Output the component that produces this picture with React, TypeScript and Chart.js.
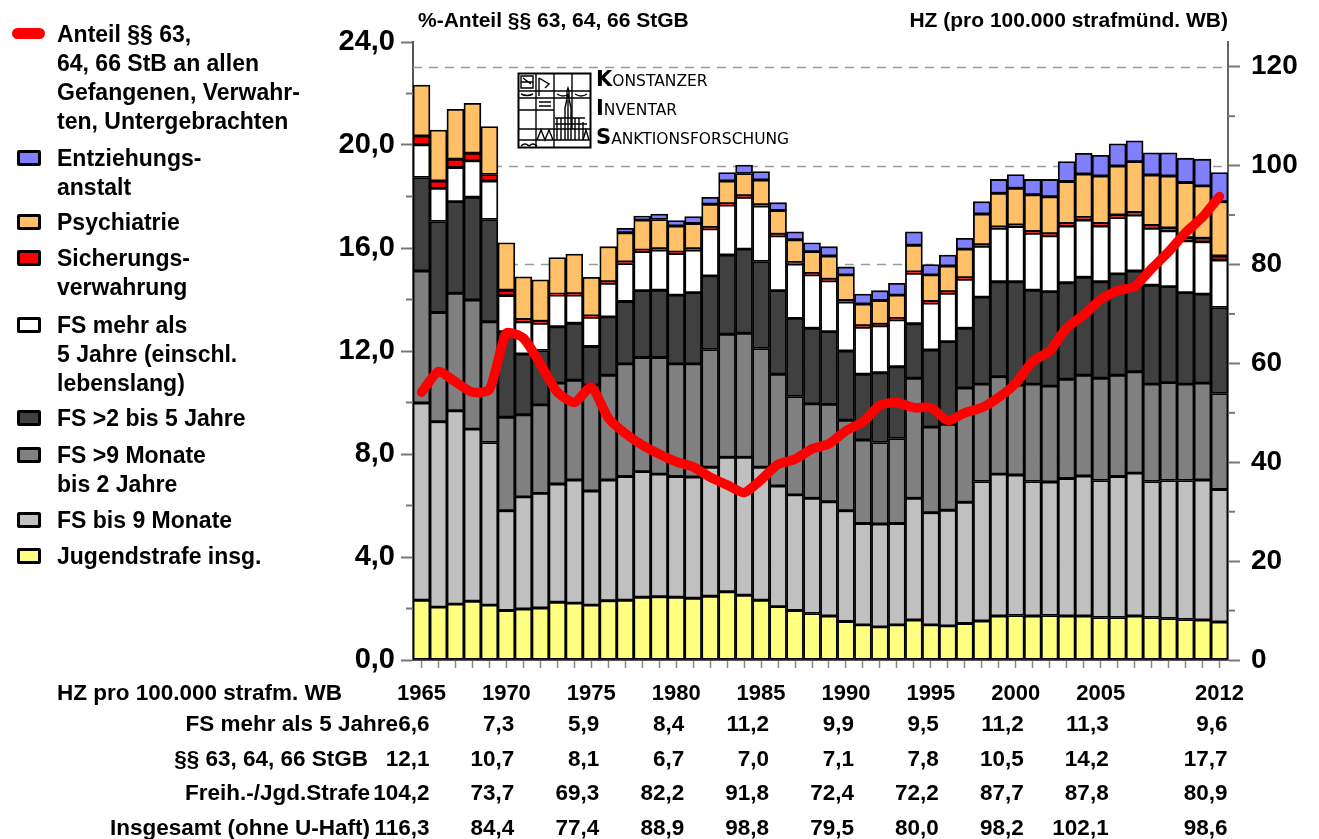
import React, { useEffect, useRef, useState } from 'react';
import { Chart, registerables } from 'chart.js';

Chart.register(...registerables);

const years = [
  '1965', '1966', '1967', '1968', '1969', '1970', '1971', '1972', '1973', '1974',
  '1975', '1976', '1977', '1978', '1979', '1980', '1981', '1982', '1983', '1984',
  '1985', '1986', '1987', '1988', '1989', '1990', '1991', '1992', '1993', '1994',
  '1995', '1996', '1997', '1998', '1999', '2000', '2001', '2002', '2003', '2004',
  '2005', '2006', '2007', '2008', '2009', '2010', '2011', '2012',
];

const labeledYears = ['1965', '1970', '1975', '1980', '1985', '1990', '1995', '2000', '2005', '2012'];

// HZ per 100.000 (right axis), stacked bottom -> top
const jugendstrafe = [
  12.1, 10.7, 11.3, 11.9, 11.1, 10.0, 10.3, 10.5, 11.7, 11.5,
  11.1, 12.0, 12.1, 12.7, 12.8, 12.7, 12.5, 12.9, 13.8, 13.1,
  12.1, 10.8, 10.0, 9.4, 8.9, 7.8, 7.1, 6.7, 7.1, 8.1,
  7.1, 6.9, 7.4, 7.9, 8.9, 9.0, 8.9, 9.0, 8.9, 8.9,
  8.6, 8.6, 8.9, 8.6, 8.4, 8.2, 8.1, 7.7,
];
const fsBis9Monate = [
  39.9, 37.5, 39.1, 34.8, 32.9, 20.2, 22.7, 23.2, 23.9, 24.9,
  23.1, 24.4, 25.0, 25.4, 24.8, 24.4, 24.5, 26.1, 27.2, 27.9,
  26.9, 24.4, 23.4, 23.3, 23.1, 22.4, 20.5, 20.8, 20.5, 24.6,
  22.7, 23.4, 24.5, 28.2, 28.7, 28.4, 27.2, 27.0, 27.8, 28.3,
  27.7, 28.5, 28.9, 27.5, 27.9, 28.1, 28.3, 26.8,
];
const fs9MonateBis2Jahre = [
  26.7, 22.1, 23.8, 26.1, 24.4, 18.9, 16.6, 17.9, 20.4, 20.2,
  21.4, 21.2, 22.8, 23.1, 23.6, 22.8, 22.9, 23.8, 24.9, 25.1,
  24.0, 22.6, 19.9, 19.1, 19.7, 18.3, 16.9, 16.5, 17.2, 24.3,
  17.3, 17.4, 23.1, 19.7, 19.7, 18.2, 19.7, 19.4, 20.1, 20.4,
  20.7, 20.5, 20.5, 19.7, 19.8, 19.5, 19.6, 19.4,
];
const fs2Bis5Jahre = [
  18.9, 18.4, 18.5, 20.8, 20.7, 17.3, 12.3, 11.0, 11.4, 11.5,
  7.8, 11.8, 12.6, 13.5, 13.6, 13.9, 14.4, 14.9, 16.0, 17.0,
  17.6, 16.9, 15.8, 15.3, 14.7, 14.0, 13.3, 14.1, 14.5, 11.0,
  15.6, 16.7, 12.1, 17.6, 19.2, 20.9, 19.0, 19.1, 19.5, 19.8,
  19.5, 20.5, 20.4, 20.0, 19.4, 18.5, 18.0, 17.4,
];
const fsMehrAls5Jahre = [
  6.6, 6.7, 6.9, 7.4, 7.8, 7.3, 6.5, 5.5, 6.4, 5.7,
  5.9, 6.8, 7.7, 7.9, 8.1, 8.4, 8.6, 9.5, 10.1, 10.5,
  11.2, 11.1, 11.0, 10.8, 10.3, 9.9, 9.5, 9.5, 9.5, 10.2,
  9.5, 9.8, 9.9, 10.3, 10.8, 11.2, 11.5, 11.3, 11.5, 11.6,
  11.3, 11.4, 11.3, 11.5, 11.3, 10.5, 10.6, 9.6,
];
const sicherungsverwahrung = [
  1.8, 1.5, 1.7, 1.5, 1.3, 1.1, 0.5, 0.4, 0.2, 0.3,
  0.3, 0.3, 0.3, 0.3, 0.3, 0.3, 0.3, 0.3, 0.3, 0.3,
  0.3, 0.3, 0.3, 0.3, 0.3, 0.3, 0.3, 0.3, 0.3, 0.3,
  0.3, 0.3, 0.3, 0.3, 0.3, 0.3, 0.4, 0.4, 0.5, 0.5,
  0.5, 0.5, 0.5, 0.6, 0.6, 0.6, 0.7, 0.8,
];
const psychiatrie = [
  10.3, 10.3, 10.1, 10.1, 9.7, 9.6, 8.6, 8.4, 7.4, 8.0,
  7.8, 7.1, 5.9, 6.1, 5.9, 5.3, 5.1, 4.7, 4.6, 4.5,
  5.0, 4.8, 4.6, 4.4, 4.7, 5.2, 4.4, 4.8, 4.7, 5.4,
  5.4, 5.2, 5.8, 6.2, 6.8, 7.4, 7.4, 7.5, 8.5, 8.8,
  9.6, 9.9, 10.3, 10.2, 10.5, 11.2, 10.6, 11.0,
];
const entziehungsanstalt = [
  0, 0, 0, 0, 0, 0, 0, 0, 0, 0,
  0, 0, 0.9, 0.8, 1.1, 1.1, 1.4, 1.4, 1.7, 1.7,
  1.7, 1.6, 1.6, 1.8, 1.9, 1.6, 2.0, 2.0, 2.4, 2.7,
  2.1, 2.2, 2.2, 2.5, 2.8, 2.8, 3.1, 3.5, 4.0, 4.2,
  4.2, 4.5, 4.2, 4.5, 4.7, 4.9, 5.4, 5.9,
];
// Anteil §§ 63, 64, 66 in % (left axis)
const anteilProzent = [
  10.4, 11.2, 10.8, 10.4, 10.5, 12.7, 12.5, 11.5, 10.4, 10.0,
  10.6, 9.4, 8.8, 8.35, 8.0, 7.7, 7.5, 7.1, 6.8, 6.5,
  7.0, 7.6, 7.8, 8.2, 8.4, 8.9, 9.25, 9.9, 10.0, 9.8,
  9.8, 9.3, 9.6, 9.8, 10.2, 10.75, 11.6, 12.0, 12.9, 13.4,
  14.0, 14.35, 14.5, 15.2, 15.85, 16.6, 17.2, 18.0,
];

// Table below the chart
const tableYears = ['1965', '1970', '1975', '1980', '1985', '1990', '1995', '2000', '2005', '2012'];
const tableFsMehr5 = [6.6, 7.3, 5.9, 8.4, 11.2, 9.9, 9.5, 11.2, 11.3, 9.6];
const tableParagraphen = [12.1, 10.7, 8.1, 6.7, 7.0, 7.1, 7.8, 10.5, 14.2, 17.7];
const tableFreiheitsstrafe = [104.2, 73.7, 69.3, 82.2, 91.8, 72.4, 72.2, 87.7, 87.8, 80.9];
const tableInsgesamt = [116.3, 84.4, 77.4, 88.9, 98.8, 79.5, 80.0, 98.2, 102.1, 98.6];

const FONT = '"Liberation Sans", Arial, Helvetica, sans-serif';
const fmt = (v: number) => v.toFixed(1).replace('.', ',');

const COLORS = {
  jugend: '#FFFF80',
  bis9: '#C0C0C0',
  m9bis2: '#808080',
  j2bis5: '#404040',
  mehr5: '#FFFFFF',
  sv: '#FF0000',
  psych: '#FFC068',
  entz: '#8080FF',
  line: '#FF0000',
};

const decorPlugin = {
  id: 'decor',
  beforeDatasetsDraw(chart: any) {
    const { ctx, chartArea } = chart;
    const yR = chart.scales.yR;
    ctx.save();
    ctx.strokeStyle = '#9a9a9a';
    ctx.lineWidth = 1.5;
    ctx.setLineDash([9, 7]);
    for (const t of yR.ticks) {
      if (t.value > 0 && t.value % 20 === 0) {
        const y = Math.round(yR.getPixelForValue(t.value)) + 0.5;
        ctx.beginPath();
        ctx.moveTo(chartArea.left, y);
        ctx.lineTo(chartArea.right, y);
        ctx.stroke();
      }
    }
    ctx.restore();
  },
  afterDraw(chart: any) {
    const { ctx, chartArea } = chart;
    const yR = chart.scales.yR;
    const yL = chart.scales.y;
    ctx.save();
    ctx.strokeStyle = '#777';
    ctx.lineWidth = 2;
    for (const t of yR.ticks) {
      if (t.value % 20 !== 0) {
        const y = yR.getPixelForValue(t.value);
        ctx.beginPath();
        ctx.moveTo(chartArea.right, y);
        ctx.lineTo(chartArea.right + 7, y);
        ctx.stroke();
      }
    }
    for (const t of yL.ticks) {
      if (Math.round(t.value) % 4 !== 0) {
        const y = yL.getPixelForValue(t.value);
        ctx.beginPath();
        ctx.moveTo(chartArea.left - 7, y);
        ctx.lineTo(chartArea.left, y);
        ctx.stroke();
      }
    }
    ctx.restore();
  },
};

function barDs(label: string, data: number[], color: string) {
  return {
    type: 'bar' as const,
    label,
    data,
    backgroundColor: color,
    borderColor: '#000',
    borderWidth: 1.8,
    borderSkipped: false,
    yAxisID: 'yR',
    stack: 'hz',
    order: 2,
    barPercentage: 1,
    categoryPercentage: 1,
  };
}

const legendItems: { kind: 'line' | 'box'; color?: string; lines: string[]; top: number }[] = [
  { kind: 'line', color: COLORS.line, lines: ['Anteil §§ 63,', '64, 66 StB an allen', 'Gefangenen, Verwahr-', 'ten, Untergebrachten'], top: 20 },
  { kind: 'box', color: COLORS.entz, lines: ['Entziehungs-', 'anstalt'], top: 144 },
  { kind: 'box', color: COLORS.psych, lines: ['Psychiatrie'], top: 208 },
  { kind: 'box', color: COLORS.sv, lines: ['Sicherungs-', 'verwahrung'], top: 244 },
  { kind: 'box', color: COLORS.mehr5, lines: ['FS mehr als', '5 Jahre (einschl.', 'lebenslang)'], top: 311 },
  { kind: 'box', color: COLORS.j2bis5, lines: ['FS >2 bis 5 Jahre'], top: 404 },
  { kind: 'box', color: COLORS.m9bis2, lines: ['FS >9 Monate', 'bis 2 Jahre'], top: 441 },
  { kind: 'box', color: COLORS.bis9, lines: ['FS bis 9 Monate'], top: 506 },
  { kind: 'box', color: COLORS.jugend, lines: ['Jugendstrafe insg.'], top: 542 },
];

const tableRows: { label: string; values: number[]; y: number; right: number }[] = [
  { label: 'FS mehr als 5 Jahre', values: tableFsMehr5, y: 724, right: 398 },
  { label: '§§ 63, 64, 66 StGB', values: tableParagraphen, y: 759, right: 368 },
  { label: 'Freih.-/Jgd.Strafe', values: tableFreiheitsstrafe, y: 793, right: 370 },
  { label: 'Insgesamt (ohne U-Haft)', values: tableInsgesamt, y: 828, right: 370 },
];

function Logo() {
  return (
    <svg width={76} height={78} style={{ position: 'absolute', left: 517, top: 72 }}>
      <rect x={1.5} y={1.5} width={72} height={74} fill="#fff" stroke="#000" strokeWidth={2} />
      <g stroke="#000" strokeWidth={1.4} fill="none">
        <line x1={19} y1={1.5} x2={19} y2={75} />
        <line x1={37} y1={1.5} x2={37} y2={75} />
        <line x1={55} y1={1.5} x2={55} y2={57} />
        <line x1={1.5} y1={19} x2={73.5} y2={19} />
        <line x1={1.5} y1={26} x2={73.5} y2={26} />
        <line x1={1.5} y1={38} x2={37} y2={38} />
        <line x1={1.5} y1={57} x2={73.5} y2={57} />
        <line x1={1.5} y1={68} x2={73.5} y2={68} />
        <path d="M4 4 L16 4 L16 16 L4 16 Z M6 6 L14 12 M4 10 L16 10" />
        <path d="M22 6 L32 12 L28 16 M22 6 L22 24" />
        <path d="M40 22 Q46 26 52 22 M58 22 Q64 26 70 22" />
        <path d="M4 22 Q10 25 16 22" />
        <path d="M22 30 L34 30 M22 34 L34 34" />
        <path d="M50 26 L50 19 L51 16 L52 19 L52 26" />
        <path d="M40 68 L40 46 M44 68 L44 46 M48 68 L48 36 M51 68 L51 28 M54 68 L54 36 M58 68 L58 46 M62 68 L62 46 M66 68 L66 50" />
        <path d="M38 46 L68 46 M38 52 L70 52" />
        <path d="M48 36 L51 22 L54 36" />
        <path d="M20 68 L24 58 L28 68 L32 58 L36 68" />
        <path d="M66 68 L69 58 L72 68" />
        <path d="M4 74 Q8 70 12 74 Q16 70 20 74" />
      </g>
    </svg>
  );
}

export default function App() {
  const canvasRef = useRef<HTMLCanvasElement>(null);
  const [cols, setCols] = useState<number[]>([]);

  useEffect(() => {
    const canvas = canvasRef.current;
    if (!canvas) return;
    const chart = new Chart(canvas, {
      type: 'bar',
      data: {
        labels: years,
        datasets: [
          {
            type: 'line' as const,
            label: 'Anteil §§ 63, 64, 66',
            data: anteilProzent,
            borderColor: COLORS.line,
            backgroundColor: COLORS.line,
            borderWidth: 9.5,
            pointRadius: 0,
            tension: 0.2,
            borderJoinStyle: 'round',
            borderCapStyle: 'round',
            yAxisID: 'y',
            order: 0,
            fill: false,
          } as any,
          barDs('Jugendstrafe insg.', jugendstrafe, COLORS.jugend),
          barDs('FS bis 9 Monate', fsBis9Monate, COLORS.bis9),
          barDs('FS >9 Monate bis 2 Jahre', fs9MonateBis2Jahre, COLORS.m9bis2),
          barDs('FS >2 bis 5 Jahre', fs2Bis5Jahre, COLORS.j2bis5),
          barDs('FS mehr als 5 Jahre', fsMehrAls5Jahre, COLORS.mehr5),
          barDs('Sicherungsverwahrung', sicherungsverwahrung, COLORS.sv),
          barDs('Psychiatrie', psychiatrie, COLORS.psych),
          barDs('Entziehungsanstalt', entziehungsanstalt, COLORS.entz),
        ] as any,
      },
      options: {
        responsive: false,
        animation: false,
        layout: { padding: { top: 42, left: 0, right: 0, bottom: 0 } },
        plugins: { legend: { display: false }, tooltip: { enabled: false }, title: { display: false } },
        scales: {
          x: {
            stacked: true,
            offset: true,
            grid: {
              display: true,
              drawOnChartArea: false,
              drawTicks: true,
              offset: false,
              tickLength: 8,
              tickColor: '#888',
              tickWidth: 1.5,
            },
            border: { display: true, color: '#555', width: 2 },
            ticks: {
              autoSkip: false,
              maxRotation: 0,
              minRotation: 0,
              padding: 13,
              color: '#000',
              font: { family: FONT, size: 22, weight: 'bold' },
              callback: (_v: any, idx: number) => (labeledYears.includes(years[idx]) ? years[idx] : ''),
            },
            afterFit: (s: any) => {
              s.height = 179;
            },
          },
          y: {
            position: 'left',
            min: 0,
            max: 24,
            stacked: false,
            grid: {
              drawOnChartArea: false,
              tickLength: 12,
              tickWidth: 2,
              tickColor: (c: any) => (Math.round(c.tick.value) % 4 === 0 ? '#777' : 'transparent'),
            },
            border: { display: true, color: '#555', width: 2 },
            ticks: {
              stepSize: 2,
              padding: 6,
              color: '#000',
              font: { family: FONT, size: 29, weight: 'bold' },
              callback: (v: any) => (Math.round(v) % 4 === 0 ? fmt(Number(v)) : ''),
            },
            afterFit: (s: any) => {
              s.width = 413;
            },
          },
          yR: {
            position: 'right',
            min: 0,
            max: 125,
            stacked: true,
            grid: {
              drawOnChartArea: false,
              tickLength: 12,
              tickWidth: 2,
              tickColor: (c: any) => (c.tick.value % 20 === 0 ? '#777' : 'transparent'),
            },
            border: { display: true, color: '#666', width: 2 },
            ticks: {
              stepSize: 5,
              padding: 11,
              color: '#000',
              font: { family: FONT, size: 28, weight: 'bold' },
              callback: (v: any) => (Number(v) % 20 === 0 ? String(v) : ''),
            },
            afterFit: (s: any) => {
              s.width = 91;
            },
          },
        },
      } as any,
      plugins: [decorPlugin],
    });
    const xs = chart.scales.x;
    setCols(tableYears.map((y) => xs.getPixelForValue(years.indexOf(y))));
    return () => chart.destroy();
  }, []);

  const textBase: React.CSSProperties = {
    position: 'absolute',
    fontFamily: FONT,
    fontWeight: 'bold',
    color: '#000',
    whiteSpace: 'nowrap',
    lineHeight: 1,
  };

  return (
    <div style={{ position: 'fixed', left: 0, top: 0, width: 1319, height: 839, background: '#fff', overflow: 'hidden' }}>
      <canvas ref={canvasRef} width={1319} height={839} style={{ position: 'absolute', left: 0, top: 0, width: 1319, height: 839 }} />

      {/* titles */}
      <div style={{ ...textBase, fontSize: 21, left: 418, top: 19, transform: 'translateY(-50%)' }}>%-Anteil §§ 63, 64, 66 StGB</div>
      <div style={{ ...textBase, fontSize: 21, right: 1319 - 1228, top: 19, transform: 'translateY(-50%)' }}>HZ (pro 100.000 strafmünd. WB)</div>

      {/* logo */}
      <Logo />
      {[
        ['K', 'ONSTANZER', 82],
        ['I', 'NVENTAR', 111],
        ['S', 'ANKTIONSFORSCHUNG', 140],
      ].map(([a, b, y]) => (
        <div
          key={String(a)}
          style={{
            position: 'absolute',
            left: 596,
            top: Number(y),
            transform: 'translateY(-60%)',
            fontFamily: '"DejaVu Sans", Verdana, sans-serif',
            color: '#000',
            whiteSpace: 'nowrap',
            lineHeight: 1,
          }}
        >
          <span style={{ fontSize: 21, fontWeight: 'bold' }}>{a}</span>
          <span style={{ fontSize: 15.5 }}>{b}</span>
        </div>
      ))}

      {/* legend */}
      {legendItems.map((it, i) => (
        <div key={i} style={{ position: 'absolute', left: 0, top: it.top }}>
          {it.kind === 'line' ? (
            <div style={{ position: 'absolute', left: 12, top: 8, width: 33, height: 11, borderRadius: 6, background: it.color }} />
          ) : (
            <div
              style={{
                position: 'absolute',
                left: 17,
                top: 6,
                width: 18,
                height: 10,
                border: '3px solid #000',
                borderRadius: 2,
                background: it.color,
              }}
            />
          )}
          <div style={{ ...textBase, position: 'absolute', left: 57, top: 0, fontSize: 23, lineHeight: '29px' }}>
            {it.lines.map((l, j) => (
              <div key={j}>{l}</div>
            ))}
          </div>
        </div>
      ))}

      {/* table */}
      <div style={{ ...textBase, fontSize: 22.5, left: 57, top: 693, transform: 'translateY(-50%)' }}>HZ pro 100.000 strafm. WB</div>
      {tableRows.map((r, i) => (
        <React.Fragment key={i}>
          <div style={{ ...textBase, fontSize: 22.5, right: 1319 - r.right, top: r.y, transform: 'translateY(-50%)' }}>{r.label}</div>
          {cols.map((x, j) => (
            <div key={j} style={{ ...textBase, fontSize: 22.5, left: x + 8, top: r.y, transform: 'translate(-100%, -50%)' }}>
              {fmt(r.values[j])}
            </div>
          ))}
        </React.Fragment>
      ))}
    </div>
  );
}
